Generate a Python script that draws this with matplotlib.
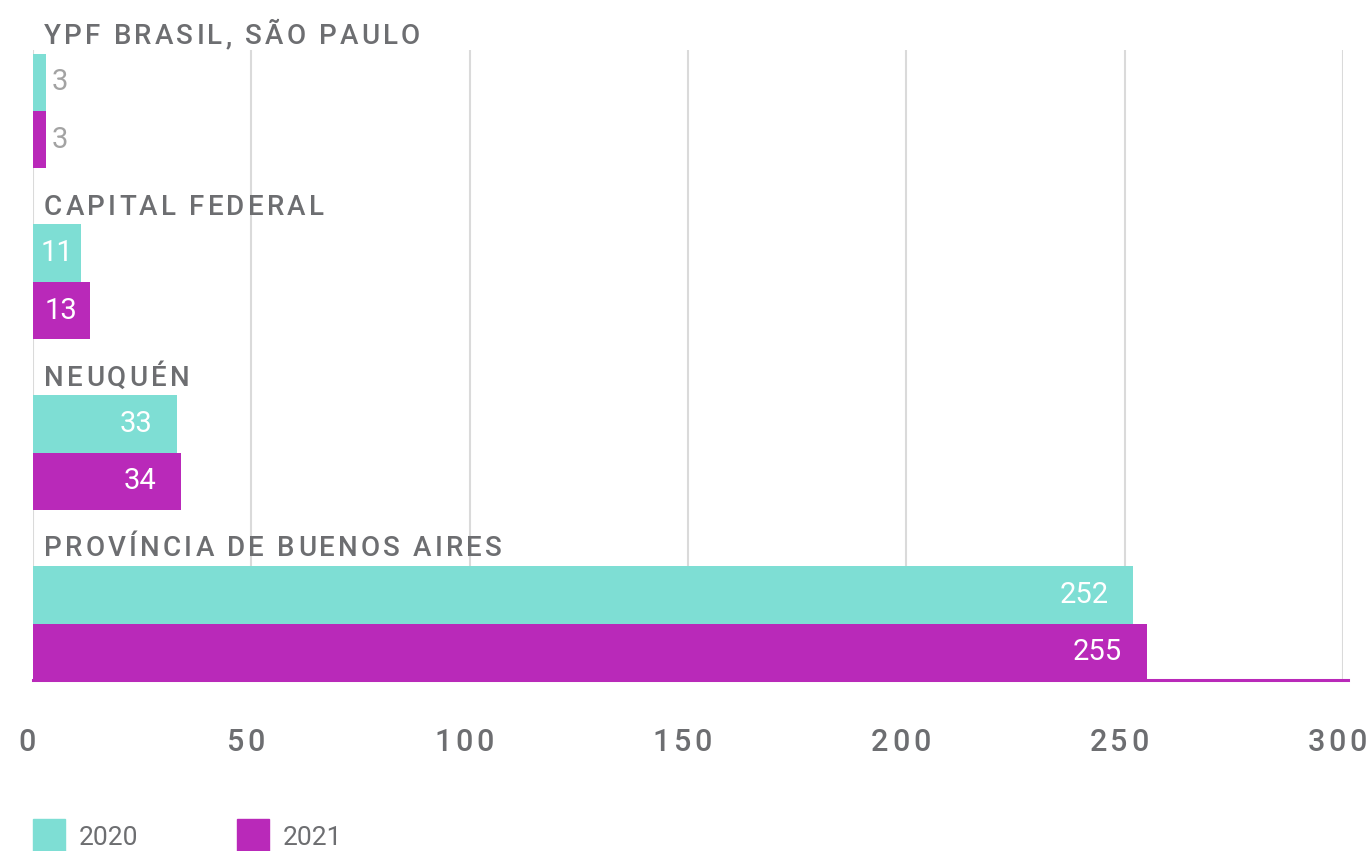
import matplotlib
matplotlib.use("Agg")
import matplotlib.pyplot as plt
from matplotlib.patches import Rectangle
from matplotlib.font_manager import FontProperties

# Datos por sede
sedes = ["YPF BRASIL, SÃO PAULO", "CAPITAL FEDERAL", "NEUQUÉN", "PROVÍNCIA DE BUENOS AIRES"]
valores_2020 = [3, 11, 33, 252]
valores_2021 = [3, 13, 34, 255]
anios = ["2020", "2021"]
ticks_x = [0, 50, 100, 150, 200, 250, 300]

color_2020 = "#7EDED4"
color_2021 = "#B929B9"
gris_texto = "#6D6E71"
gris_valor = "#A3A3A3"
gris_grilla = "#DADADA"

W, H = 1367, 851
DPI = 100
fig = plt.figure(figsize=(W / DPI, H / DPI), dpi=DPI)
renderer = fig.canvas.get_renderer()

# ejes en pixeles: x de 33 a 1343, y de 50 a 681
ax = fig.add_axes([33 / W, 1 - 681 / H, (1343 - 33) / W, (681 - 50) / H])
alto = 0.336
posiciones = list(range(len(sedes)))

barras_2020 = ax.barh([p - alto / 2 for p in posiciones], valores_2020, height=alto,
                      color=color_2020, zorder=3)
barras_2021 = ax.barh([p + alto / 2 for p in posiciones], valores_2021, height=alto,
                      color=color_2021, zorder=3)

ax.set_xlim(0, 300)
ax.set_ylim(len(sedes) - 1 + alto, -0.357)

for t in ticks_x:
    ax.axvline(t, color=gris_grilla, lw=1.5, zorder=1)
ax.axhline(len(sedes) - 1 + alto - 0.006, xmin=0, xmax=1.004, color=color_2021,
           lw=2.2, zorder=2, clip_on=False)

for s in ax.spines.values():
    s.set_visible(False)
ax.set_yticks([])
ax.set_xticks([])


def ancho_pt(texto, fp):
    # ancho de avance en puntos (los espacios se miden entre dos letras)
    if texto == " ":
        a = renderer.get_text_width_height_descent("n n", fp, ismath=False)[0]
        b = renderer.get_text_width_height_descent("nn", fp, ismath=False)[0]
        return (a - b) * 72 / DPI
    return renderer.get_text_width_height_descent(texto, fp, ismath=False)[0] * 72 / DPI


def texto_espaciado(xy, texto, fp, color, espacio, dx=0, dy=0, ha="left",
                    va="baseline", trans=None):
    # dibuja letra por letra con separacion extra (tracking)
    anchos = [ancho_pt(c, fp) for c in texto]
    total = sum(anchos) + espacio * (len(texto) - 1)
    x0 = dx - {"left": 0, "center": total / 2, "right": total}[ha]
    for c, w in zip(texto, anchos):
        ax.annotate(c, xy=xy, xycoords=trans or "data", xytext=(x0, dy),
                    textcoords="offset points", ha="left", va=va,
                    fontproperties=fp, color=color, annotation_clip=False)
        x0 += w + espacio


# nombre de cada sede sobre sus barras
fp_sede = FontProperties(family="Roboto", weight="medium", size=20)
for p, nombre in zip(posiciones, sedes):
    texto_espaciado((0, p - alto), nombre, fp_sede, gris_texto, 2.3, dx=8, dy=7)

# etiquetas del eje x
fp_tick = FontProperties(family="Roboto", weight="medium", size=22)
for t in ticks_x:
    texto_espaciado((t, 0), str(t), fp_tick, gris_texto, 2.6, dx=-4, dy=-50.5,
                    ha="center", trans=ax.get_xaxis_transform())

fp_valor = FontProperties(family="Roboto", weight="normal", size=21)


def etiquetar(barras, valores):
    for b, v in zip(barras, valores):
        y = b.get_y() + b.get_height() / 2
        if v >= 30:
            ax.annotate(str(v), xy=(v, y), xytext=(-18, 0), textcoords="offset points",
                        ha="right", va="center", fontproperties=fp_valor,
                        color="white", zorder=4)
        elif v >= 10:
            ax.annotate(str(v), xy=(v / 2, y), xytext=(0, 0), textcoords="offset points",
                        ha="center", va="center", fontproperties=fp_valor,
                        color="white", zorder=4)
        else:
            ax.annotate(str(v), xy=(v, y), xytext=(4, 0), textcoords="offset points",
                        ha="left", va="center", fontproperties=fp_valor,
                        color=gris_valor, zorder=4)


etiquetar(barras_2020, valores_2020)
etiquetar(barras_2021, valores_2021)

# leyenda
for x0, anio, col in [(33, anios[0], color_2020), (237, anios[1], color_2021)]:
    fig.add_artist(Rectangle((x0 / W, 0), 32 / W, 32 / H, transform=fig.transFigure,
                             color=col))
    fig.text((x0 + 46) / W, 1 - 838 / H, anio, ha="left", va="center", fontsize=19,
             fontfamily="Roboto", fontweight="normal", color=gris_texto)

fig.savefig("out.png", dpi=DPI)
